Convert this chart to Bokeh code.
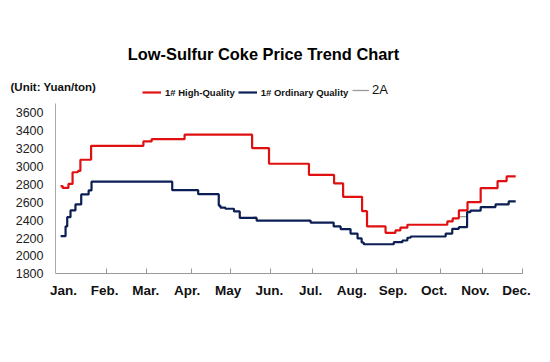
from bokeh.plotting import figure
from bokeh.models import Range1d, FixedTicker, Label, Legend, LegendItem, LinearAxis
from bokeh.embed import file_html
from bokeh.resources import INLINE

# ---- data (x in month units: 0 = Jan., 11 = Dec.) ----
months = ["Jan.", "Feb.", "Mar.", "Apr.", "May", "Jun.", "Jul.", "Aug.", "Sep.", "Oct.", "Nov.", "Dec."]
month_bounds = [1.04, 2.02, 3.11, 4.06, 5.03, 6.05, 7.12, 8.09, 9.15, 10.17, 11.146]
yticks = [1800, 2000, 2200, 2400, 2600, 2800, 3000, 3200, 3400, 3600]

high_x = [-0.07, -0.02, 0.12, 0.22, 0.35, 0.41, 0.67, 1.94, 2.14, 2.94, 4.58, 4.99, 5.96,
          6.57, 6.79, 7.25, 7.37, 7.82, 8.06, 8.18, 8.35, 9.32, 9.45, 9.60, 9.81, 10.13,
          10.54, 10.76, 10.98]
high_y = [2780, 2760, 2805, 2935, 2950, 3075, 3230, 3280, 3305, 3355, 3205, 3030, 2905,
          2810, 2660, 2500, 2330, 2258, 2285, 2315, 2348, 2385, 2420, 2508, 2601, 2758,
          2836, 2888, 2888]

ord_x = [-0.07, 0.05, 0.09, 0.17, 0.29, 0.43, 0.61, 0.68, 2.64, 3.27, 3.77, 3.81, 3.93,
         4.14, 4.28, 4.69, 6.00, 6.56, 6.73, 6.97, 7.14, 7.24, 7.29, 8.02, 8.23, 8.35,
         8.43, 9.28, 9.44, 9.60, 9.80, 9.88, 10.13, 10.49, 10.81, 10.98]
ord_y = [2220, 2330, 2433, 2508, 2575, 2687, 2732, 2830, 2735, 2690, 2563, 2540, 2527,
         2497, 2425, 2395, 2372, 2330, 2300, 2250, 2195, 2150, 2130, 2153, 2172, 2203,
         2217, 2250, 2303, 2321, 2489, 2505, 2546, 2575, 2609, 2609]

# 2A: only short visible pieces
a2_x = [4.61, 4.69, float("nan"), 9.60, 9.78]
a2_y = [2432, 2432, float("nan"), 2440, 2440]

RED = "#e01010"
NAVY = "#0c1f55"
GRAY = "#9a9a9a"
FONT = "Liberation Sans"

X0, X1 = -0.194, 11.146     # axis extent
Y0, Y1 = 1800, 3700

p = figure(width=534, height=346, output_backend="svg", toolbar_location=None, title=None,
           x_range=Range1d(-1.530, 11.437), y_range=Range1d(987.4, 4854.7),
           min_border=0)
p.outline_line_color = None
p.xgrid.visible = False
p.ygrid.visible = False
p.background_fill_color = "white"
p.border_fill_color = "white"

r_2a = p.line(a2_x, a2_y, line_color=GRAY, line_width=1.3)
r_high = p.step(high_x, high_y, mode="after", line_color=RED, line_width=2.2)
r_ord = p.step(ord_x, ord_y, mode="after", line_color=NAVY, line_width=2.2)

# axes, placed inside the frame
p.xaxis.fixed_location = Y0
p.xaxis.bounds = (X0, X1)
p.xaxis.ticker = FixedTicker(ticks=list(range(12)))
p.xaxis.major_label_overrides = {i: m for i, m in enumerate(months)}
p.xaxis.major_label_text_font = FONT
p.xaxis.major_label_text_font_style = "bold"
p.xaxis.major_label_text_font_size = "13.5px"
p.xaxis.major_label_text_color = "#111111"
p.xaxis.major_label_standoff = 9
p.xaxis.axis_line_color = "#999999"
p.xaxis.major_tick_line_color = None
p.xaxis.major_tick_in = 0
p.xaxis.major_tick_out = 0
p.xaxis.minor_tick_line_color = None

# month-boundary tick marks
xb = LinearAxis(fixed_location=Y0, bounds=(X0, X1), ticker=FixedTicker(ticks=month_bounds),
                axis_line_color=None, major_tick_line_color="#999999",
                major_tick_in=5, major_tick_out=0, minor_tick_line_color=None,
                major_label_text_font_size="0px", major_label_text_alpha=0)
p.add_layout(xb, "below")

p.yaxis.fixed_location = X0
p.yaxis.bounds = (Y0, Y1)
p.yaxis.ticker = FixedTicker(ticks=yticks)
p.yaxis.major_label_text_font = FONT
p.yaxis.major_label_text_font_size = "12.5px"
p.yaxis.major_label_text_color = "#222222"
p.yaxis.major_label_standoff = 12
p.yaxis.axis_line_color = "#aaaaaa"
p.yaxis.major_tick_in = 0
p.yaxis.major_tick_out = 0
p.yaxis.minor_tick_line_color = None

# titles
p.add_layout(Label(x=263, y=293, x_units="screen", y_units="screen",
                   text="Low-Sulfur Coke Price Trend Chart", text_font=FONT,
                   text_font_style="bold", text_font_size="16.4px", text_color="#000000",
                   text_align="center", text_baseline="middle"))
p.add_layout(Label(x=10, y=260, x_units="screen", y_units="screen",
                   text="(Unit: Yuan/ton)", text_font=FONT,
                   text_font_style="bold", text_font_size="11.5px", text_color="#111111",
                   text_align="left", text_baseline="middle"))

leg1 = Legend(items=[LegendItem(label="1# High-Quality", renderers=[r_high]),
                     LegendItem(label="1# Ordinary Quality", renderers=[r_ord])],
              location=(142, 248), orientation="horizontal", padding=0, margin=0,
              spacing=3, label_standoff=4, glyph_width=19, glyph_height=12,
              label_height=12, label_width=10,
              label_text_font=FONT, label_text_font_style="bold",
              label_text_font_size="9.5px", label_text_color="#111111",
              border_line_color=None, background_fill_alpha=0)
leg2 = Legend(items=[LegendItem(label="2A", renderers=[r_2a])],
              location=(352, 249), orientation="horizontal", padding=0, margin=0,
              spacing=3, label_standoff=3, glyph_width=17, glyph_height=12,
              label_height=12, label_width=10,
              label_text_font=FONT, label_text_font_size="13px", label_text_color="#111111",
              border_line_color=None, background_fill_alpha=0)
p.add_layout(leg1)
p.add_layout(leg2)

open("out.html", "w").write(file_html(p, INLINE))
